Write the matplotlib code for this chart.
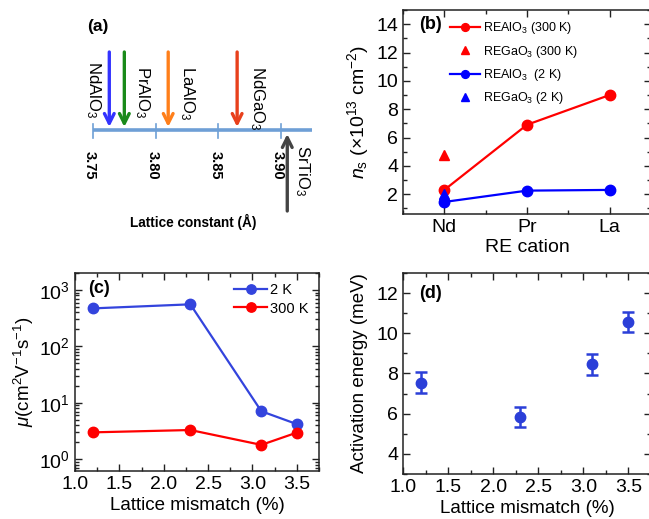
import matplotlib
matplotlib.use("Agg")
import matplotlib.pyplot as plt
from matplotlib.ticker import MultipleLocator, LogLocator, NullFormatter
import numpy as np

plt.rcParams['font.family'] = ['Liberation Sans', 'DejaVu Sans']
plt.rcParams['mathtext.fontset'] = 'custom'
plt.rcParams['mathtext.rm'] = 'Liberation Sans'
plt.rcParams['mathtext.it'] = 'Liberation Sans:italic'
plt.rcParams['mathtext.bf'] = 'Liberation Sans:bold'

# ---- data ----
# (a) lattice constants (Angstrom)
substrates = ['NdAlO$_3$', 'PrAlO$_3$', 'LaAlO$_3$', 'NdGaO$_3$']
sub_a = [3.763, 3.775, 3.810, 3.865]
sub_colors = ['#3333ff', '#1a8a1a', '#ff7f1a', '#e8401c']
sto_label = 'SrTiO$_3$'
sto_a = 3.905
lat_ticks = [3.75, 3.80, 3.85, 3.90]

# (b) sheet carrier density
cations = ['Nd', 'Pr', 'La']
ns_al_300 = [2.3, 6.9, 9.0]
ns_ga_300 = [4.75]
ns_al_2 = [1.45, 2.25, 2.3]
ns_ga_2 = [2.0]

# (c) mobility
mismatch = [1.2, 2.3, 3.1, 3.5]
mu_2K = [472, 557, 7.1, 4.2]
mu_300K = [3.0, 3.3, 1.8, 2.97]

# (d) activation energy
ea = [7.55, 5.85, 8.45, 10.55]
ea_err = [0.5, 0.5, 0.5, 0.5]

W, H = 649, 519
fig = plt.figure(figsize=(W/100, H/100), dpi=100)

def rect(l, t, r, b):
    return [l/W, 1-b/H, (r-l)/W, (b-t)/H]

# ---------- (a) ----------
axa = fig.add_axes([0, 0, 330/W, 1])
axa.axis('off')
px = 0.15/188.0
axa.set_xlim(3.75 - 93*px, 3.75 + (330-93)*px)
axa.set_ylim(H, 0)
axis_y = 130
axa.plot([3.75, 3.925], [axis_y, axis_y], color='#6e9fd6', lw=2.6, solid_capstyle='butt')
for t in lat_ticks:
    axa.plot([t, t], [124, 138], color='#6e9fd6', lw=1.2)
    axa.text(t - 3*px, 151, f'{t:.2f}', rotation=270, ha='center', va='top',
             fontsize=10.5, fontweight='bold')
offs = [-16, 18, 19, 20]
arrow_style = '->,head_width=0.35,head_length=0.7'
for name, a, c, o in zip(substrates, sub_a, sub_colors, offs):
    axa.annotate('', xy=(a, 127), xytext=(a, 52),
                 arrowprops=dict(arrowstyle=arrow_style, color=c, lw=2.4,
                                 shrinkA=0, shrinkB=0))
    axa.text(a + o*px, 61 if o < 0 else 66, name, rotation=270, ha='center', va='top',
             fontsize=12)
axa.annotate('', xy=(sto_a, 134), xytext=(sto_a, 211),
             arrowprops=dict(arrowstyle=arrow_style, color='#444444', lw=2.4,
                             shrinkA=0, shrinkB=0))
axa.text(sto_a + 15*px, 145, sto_label, rotation=270, ha='center', va='top', fontsize=12)
axa.text(3.75 + 5*px, 27, '(a)', ha='center', va='center', fontsize=12.5, fontweight='bold')
axa.text(3.75 + 100*px, 222, 'Lattice constant (Å)', ha='center', va='center',
         fontsize=9.8, fontweight='bold')

def style(ax):
    for s in ax.spines.values():
        s.set_linewidth(1.1)
        s.set_color('#222222')
    ax.tick_params(which='both', direction='in', top=True, right=True, labelsize=14,
                   width=1.0, color='#222222')
    ax.tick_params(which='major', length=5)
    ax.tick_params(which='minor', length=3)

# ---------- (b) ----------
axb = fig.add_axes(rect(403, 10, 651, 214))
style(axb)
xb = np.arange(len(cations))
axb.plot(xb, ns_al_300, '-o', color='#ff0000', lw=1.6, ms=7.5, label='REAlO$_3$ (300 K)')
axb.plot(xb[:len(ns_ga_300)], ns_ga_300, '^', color='#ff0000', ms=7.5, ls='none',
         label='REGaO$_3$ (300 K)')
axb.plot(xb, ns_al_2, '-o', color='#0000ff', lw=1.6, ms=7.5, label='REAlO$_3$  (2 K)')
axb.plot(xb[:len(ns_ga_2)], ns_ga_2, '^', color='#0000ff', ms=7.5, ls='none',
         label='REGaO$_3$ (2 K)')
axb.set_xlim(-0.5, 2.5)
axb.set_ylim(0.6, 15)
axb.set_xticks(xb)
axb.set_xticklabels(cations)
axb.xaxis.set_minor_locator(MultipleLocator(0.5))
axb.yaxis.set_minor_locator(MultipleLocator(1))
axb.set_yticks([2, 4, 6, 8, 10, 12, 14])
axb.set_xlabel('RE cation', fontsize=14, labelpad=2)
axb.set_ylabel('$n_\\mathrm{s}$ ($\\times$10$^{13}$ cm$^{-2}$)', fontsize=14, labelpad=4)
axb.text(0.11, 0.93, '(b)', transform=axb.transAxes, fontsize=13, fontweight='bold',
         ha='center', va='center')
axb.legend(loc='upper left', bbox_to_anchor=(0.15, 1.0), frameon=False, fontsize=9,
           handlelength=2.4, handletextpad=0.2, labelspacing=0.6, borderaxespad=0.4,
           markerscale=0.75)

# ---------- (c) ----------
axc = fig.add_axes(rect(75, 273, 319, 471))
style(axc)
axc.semilogy(mismatch, mu_2K, '-o', color='#3344dd', lw=1.6, ms=7.5, label='2 K')
axc.semilogy(mismatch, mu_300K, '-o', color='#ff0000', lw=1.6, ms=7.5, label='300 K')
axc.set_xlim(1.0, 3.75)
axc.set_ylim(0.62, 2000)
axc.xaxis.set_major_locator(MultipleLocator(0.5))
axc.xaxis.set_minor_locator(MultipleLocator(0.25))
axc.yaxis.set_major_locator(LogLocator(base=10, numticks=10))
axc.yaxis.set_minor_locator(LogLocator(base=10, subs=np.arange(2, 10), numticks=10))
axc.yaxis.set_minor_formatter(NullFormatter())
axc.set_xlabel('Lattice mismatch (%)', fontsize=13.5, labelpad=3)
axc.set_ylabel('$\\mathit{\\mu}$(cm$^2$V$^{-1}$s$^{-1}$)', fontsize=13.5, labelpad=2)
axc.text(0.1, 0.92, '(c)', transform=axc.transAxes, fontsize=13, fontweight='bold',
         ha='center', va='center')
axc.legend(loc='upper right', frameon=False, fontsize=10.5, handlelength=2.3,
           handletextpad=0.2, labelspacing=0.3, borderaxespad=0.3, markerscale=0.9)

# ---------- (d) ----------
axd = fig.add_axes(rect(403, 273, 651, 474))
style(axd)
axd.errorbar(mismatch, ea, yerr=ea_err, fmt='o', color='#2b3fd8', ms=7.5, lw=1.8,
             capsize=4, capthick=1.8)
axd.set_xlim(1.0, 3.75)
axd.set_ylim(3.0, 13.0)
axd.xaxis.set_major_locator(MultipleLocator(0.5))
axd.xaxis.set_minor_locator(MultipleLocator(0.25))
axd.yaxis.set_minor_locator(MultipleLocator(1))
axd.set_yticks([4, 6, 8, 10, 12])
axd.set_xlabel('Lattice mismatch (%)', fontsize=13.5, labelpad=3)
axd.set_ylabel('Activation energy (meV)', fontsize=13.5, labelpad=6)
axd.text(0.11, 0.9, '(d)', transform=axd.transAxes, fontsize=13, fontweight='bold',
         ha='center', va='center')

fig.savefig('out.png', dpi=100)
